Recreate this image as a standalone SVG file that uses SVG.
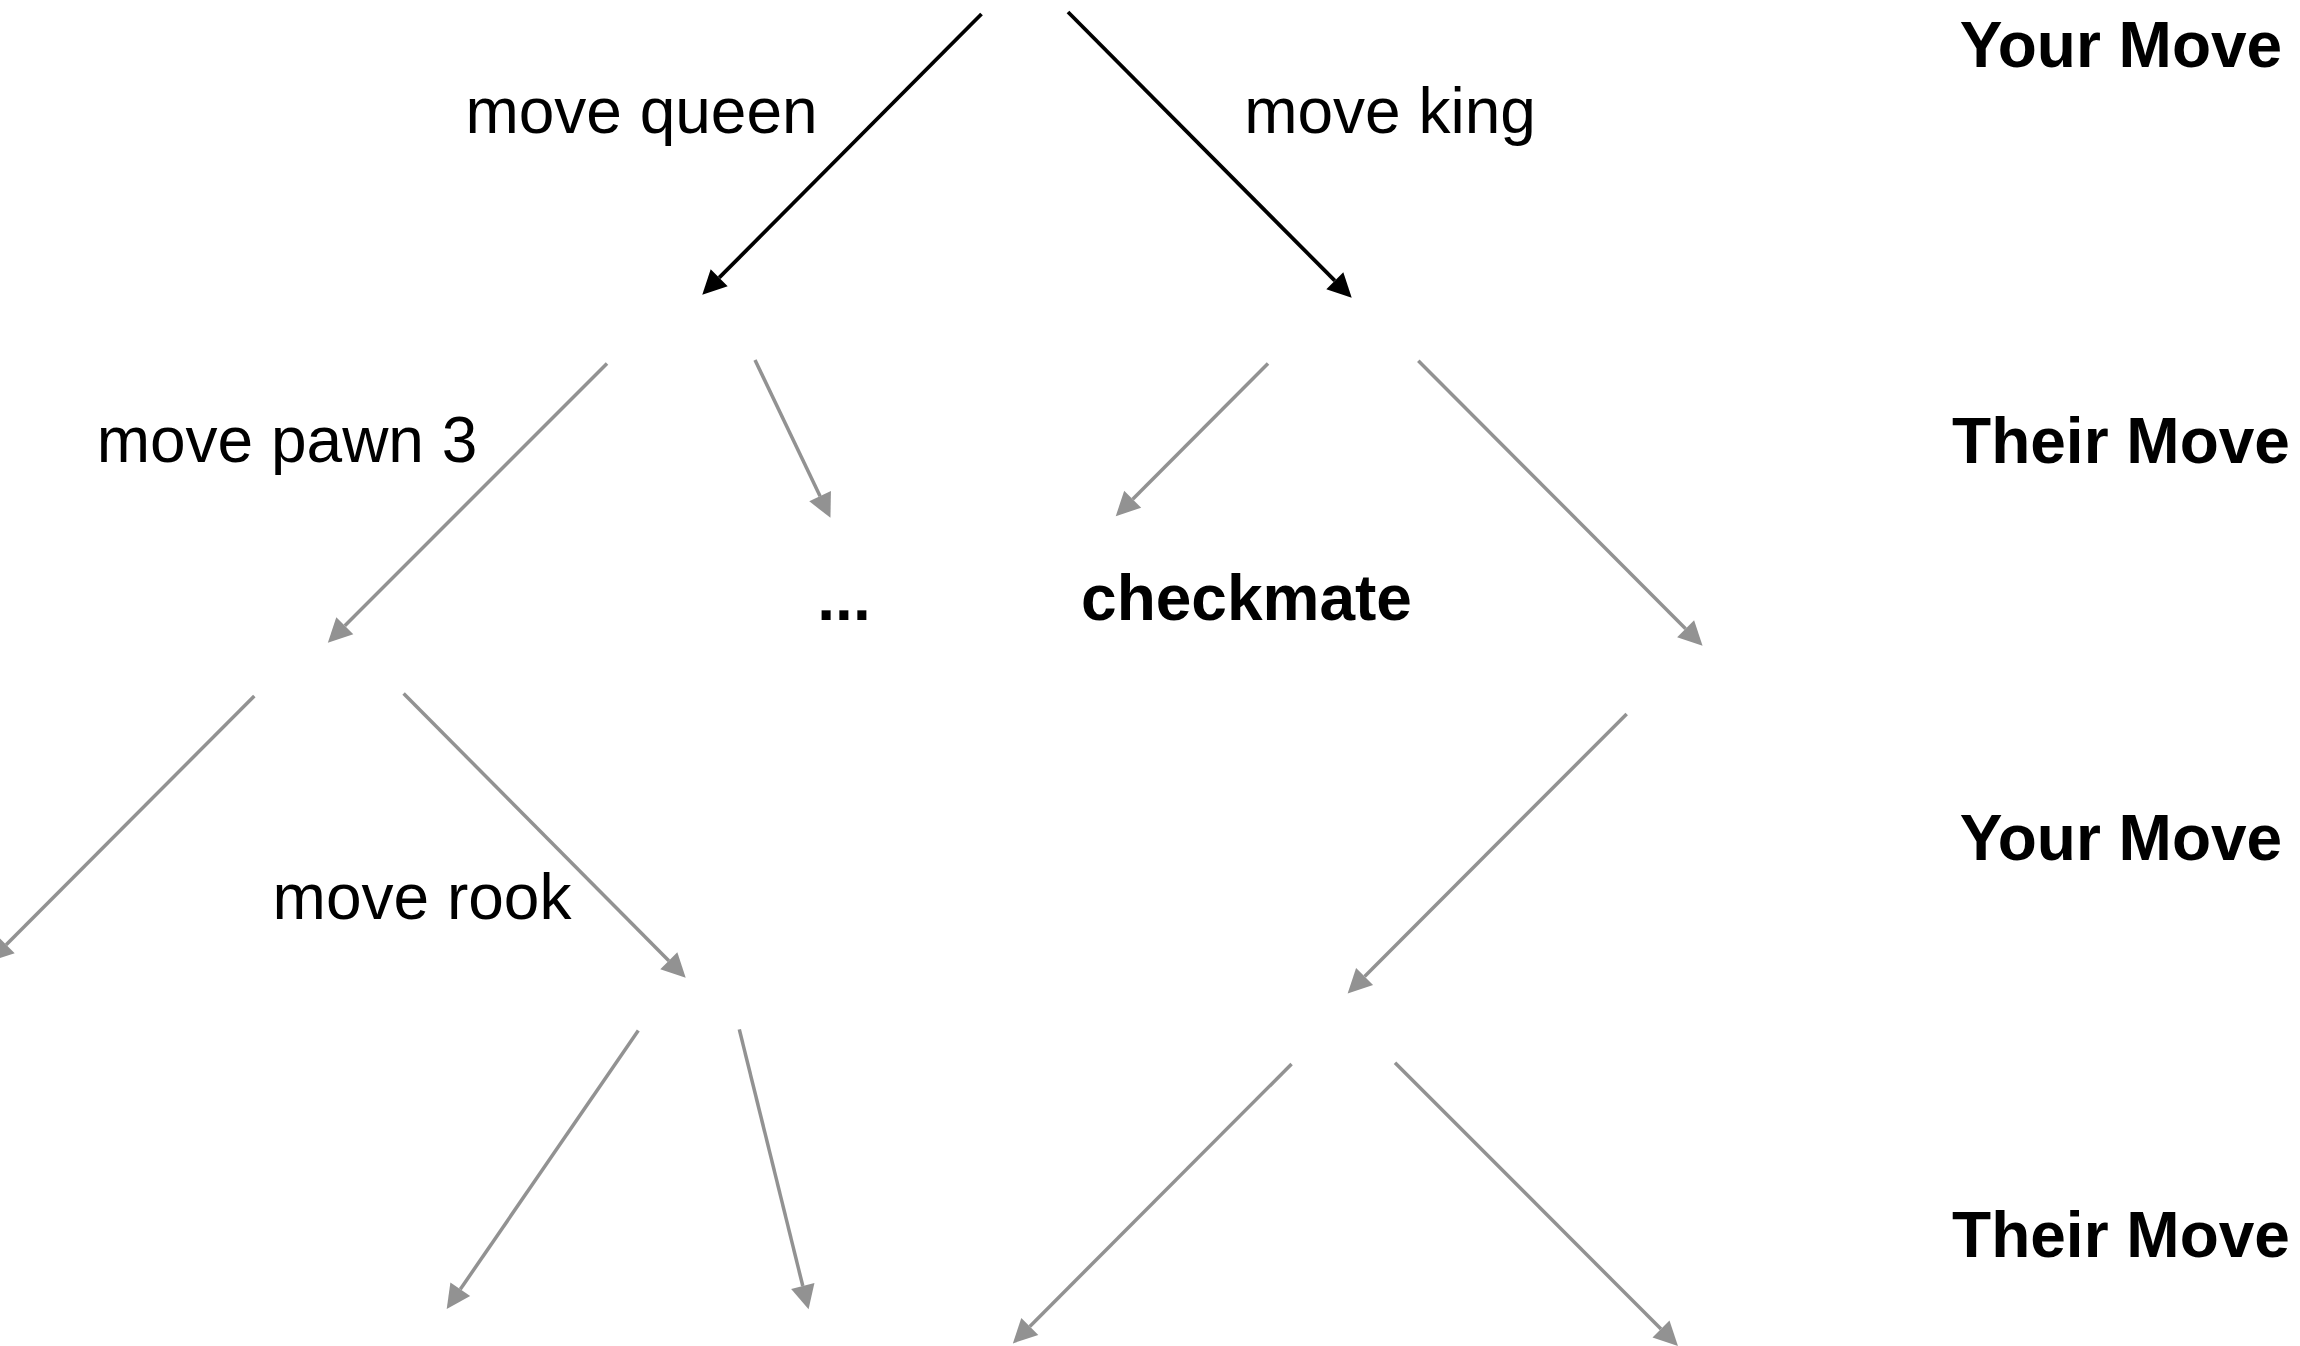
<svg xmlns="http://www.w3.org/2000/svg" width="2300" height="1346" viewBox="0 0 2300 1346">
  <style>
    .edge { fill: none; }
    .black { stroke: #000000; stroke-width: 3.8; }
    .grey { stroke: #929292; stroke-width: 3.5; }
    .lbl { font-family: "Liberation Sans", Arial, Helvetica, sans-serif; font-size: 64px; fill: #000000; text-anchor: middle; }
    .bold { font-weight: bold; }
  </style>
  <defs>
    <marker id="headBlack" markerUnits="userSpaceOnUse" markerWidth="26" markerHeight="26" refX="0" refY="12" orient="auto" overflow="visible">
      <path d="M0,0 L24,12 L0,24 z" fill="#000000"/>
    </marker>
    <marker id="headGrey" markerUnits="userSpaceOnUse" markerWidth="26" markerHeight="26" refX="0" refY="12" orient="auto" overflow="visible">
      <path d="M0,0 L24,12 L0,24 z" fill="#929292"/>
    </marker>
  </defs>
  <rect width="2300" height="1346" fill="#ffffff"/>

  <!-- move edges of the game tree -->
  <g id="connectors">
    <line class="edge black" x1="981.5" y1="14" x2="719.2" y2="277.7" marker-end="url(#headBlack)"/>
    <line class="edge black" x1="1068" y1="12" x2="1334.8" y2="280.7" marker-end="url(#headBlack)"/>
    <line class="edge grey" x1="607" y1="363.5" x2="344.8" y2="625.7" marker-end="url(#headGrey)"/>
    <line class="edge grey" x1="755" y1="360" x2="820.1" y2="496.2" marker-end="url(#headGrey)"/>
    <line class="edge grey" x1="1268" y1="363.5" x2="1132.7" y2="499.2" marker-end="url(#headGrey)"/>
    <line class="edge grey" x1="1418.3" y1="360.7" x2="1685.6" y2="628.7" marker-end="url(#headGrey)"/>
    <line class="edge grey" x1="254.3" y1="696" x2="6.2" y2="944.7" marker-end="url(#headGrey)"/>
    <line class="edge grey" x1="403.6" y1="693.5" x2="668.8" y2="960.7" marker-end="url(#headGrey)"/>
    <line class="edge grey" x1="1626.7" y1="714" x2="1364.6" y2="976.4" marker-end="url(#headGrey)"/>
    <line class="edge grey" x1="638.3" y1="1030.5" x2="460.3" y2="1289.3" marker-end="url(#headGrey)"/>
    <line class="edge grey" x1="739.3" y1="1029.3" x2="802.8" y2="1286" marker-end="url(#headGrey)"/>
    <line class="edge grey" x1="1291.6" y1="1064" x2="1029.8" y2="1326.4" marker-end="url(#headGrey)"/>
    <line class="edge grey" x1="1395" y1="1062.7" x2="1661" y2="1329" marker-end="url(#headGrey)"/>
  </g>

  <!-- edge labels -->
  <g id="label-move-queen"><text class="lbl" x="641.5" y="133">move queen</text></g>
  <g id="label-move-king"><text class="lbl" x="1390" y="133">move king</text></g>
  <g id="label-move-pawn-3"><text class="lbl" x="287" y="462">move pawn 3</text></g>
  <g id="label-move-rook"><text class="lbl" x="422" y="919">move rook</text></g>

  <!-- leaf nodes -->
  <g id="node-more"><text class="lbl bold" x="844" y="620">...</text></g>
  <g id="node-checkmate"><text class="lbl bold" x="1246.5" y="620">checkmate</text></g>

  <!-- ply labels on the right -->
  <g id="ply-1"><text class="lbl bold" x="2121" y="67">Your Move</text></g>
  <g id="ply-2"><text class="lbl bold" x="2121" y="463">Their Move</text></g>
  <g id="ply-3"><text class="lbl bold" x="2121" y="860">Your Move</text></g>
  <g id="ply-4"><text class="lbl bold" x="2121" y="1257">Their Move</text></g>
</svg>
